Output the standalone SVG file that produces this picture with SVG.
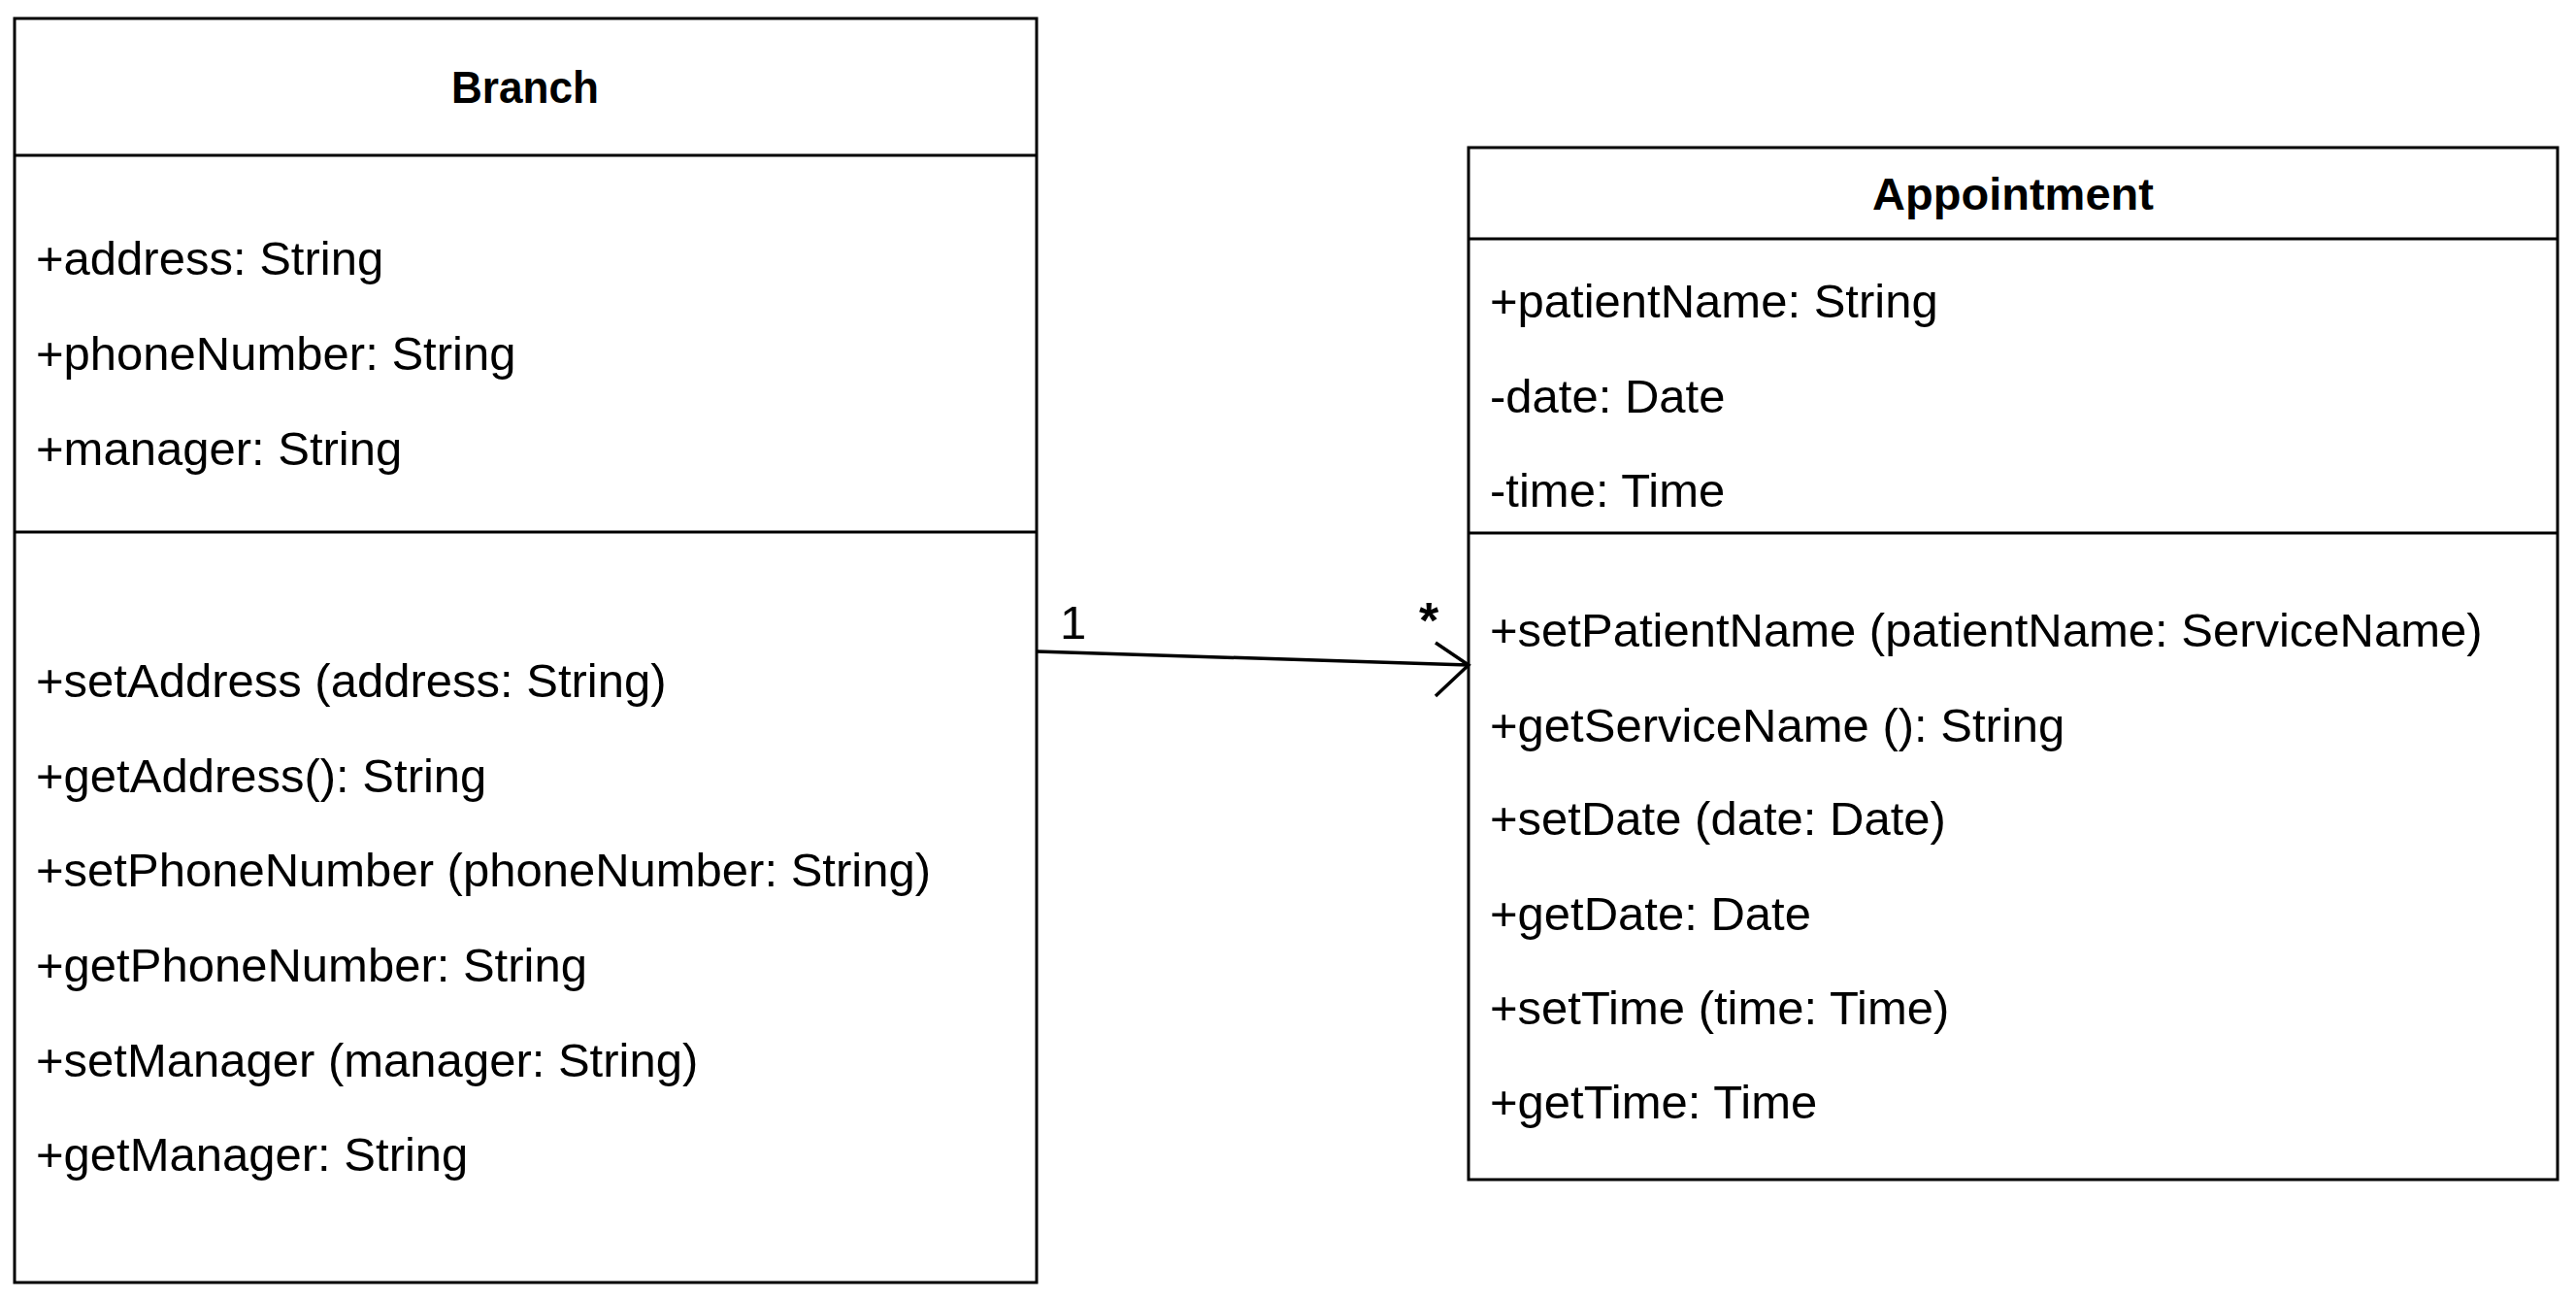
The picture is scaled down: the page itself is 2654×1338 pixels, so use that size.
<svg xmlns="http://www.w3.org/2000/svg" width="2654" height="1338" viewBox="0 0 2654 1338">
<style>
.box{fill:#fff;stroke:#000;stroke-width:3}
.div{stroke:#000;stroke-width:3}
.t{font-family:"Liberation Sans",Arial,sans-serif;font-size:49px;fill:#000}
.h{font-family:"Liberation Sans",Arial,sans-serif;font-size:47px;font-weight:bold;fill:#000;text-anchor:middle}
.c{stroke:#000;stroke-width:3.5;fill:none}
</style>
<rect width="2654" height="1338" fill="#fff"/>
<g id="branch">
<rect class="box" x="15" y="19" width="1053" height="1302"/>
<line class="div" x1="15" y1="160" x2="1068" y2="160"/>
<line class="div" x1="15" y1="548" x2="1068" y2="548"/>
<text class="h" x="541" y="106" textLength="152" lengthAdjust="spacingAndGlyphs">Branch</text>
<text class="t" x="37" y="283">+address: String</text>
<text class="t" x="37" y="381">+phoneNumber: String</text>
<text class="t" x="37" y="479">+manager: String</text>
<text class="t" x="37" y="718">+setAddress (address: String)</text>
<text class="t" x="37" y="816">+getAddress(): String</text>
<text class="t" x="37" y="913">+setPhoneNumber (phoneNumber: String)</text>
<text class="t" x="37" y="1011">+getPhoneNumber: String</text>
<text class="t" x="37" y="1109">+setManager (manager: String)</text>
<text class="t" x="37" y="1206">+getManager: String</text>
</g>
<g id="appointment">
<rect class="box" x="1513" y="152" width="1122" height="1063"/>
<line class="div" x1="1513" y1="246" x2="2635" y2="246"/>
<line class="div" x1="1513" y1="549" x2="2635" y2="549"/>
<text class="h" x="2074" y="216">Appointment</text>
<text class="t" x="1535" y="327">+patientName: String</text>
<text class="t" x="1535" y="425">-date: Date</text>
<text class="t" x="1535" y="522">-time: Time</text>
<text class="t" x="1535" y="666">+setPatientName (patientName: ServiceName)</text>
<text class="t" x="1535" y="764">+getServiceName (): String</text>
<text class="t" x="1535" y="860">+setDate (date: Date)</text>
<text class="t" x="1535" y="958">+getDate: Date</text>
<text class="t" x="1535" y="1055">+setTime (time: Time)</text>
<text class="t" x="1535" y="1152">+getTime: Time</text>
</g>
<g id="connectors">
<line class="c" x1="1068" y1="671" x2="1513" y2="685"/>
<polyline class="c" points="1479,662 1513,685 1479,717"/>
<text class="t" x="1092" y="658">1</text>
<text class="t" x="1462" y="657" style="font-size:52px;font-weight:bold">*</text>
</g>
</svg>
